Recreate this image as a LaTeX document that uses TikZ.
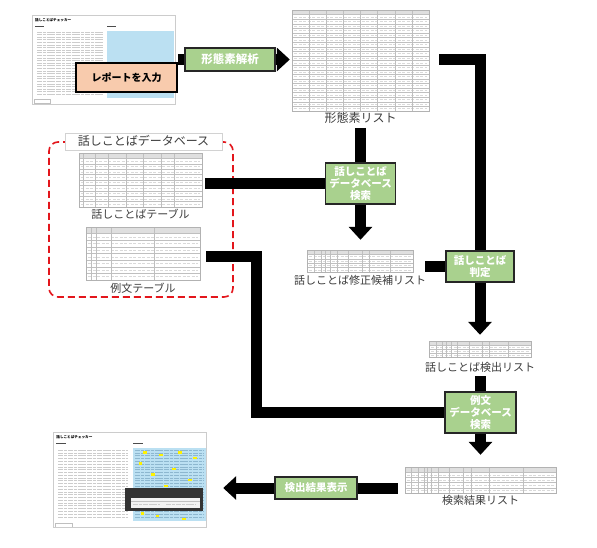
\documentclass[tikz,border=0pt]{standalone}
\usepackage{fontspec}
\setmainfont{Noto Sans CJK JP}
\usetikzlibrary{arrows.meta,fit,positioning}

\definecolor{procgreen}{HTML}{A9D18E}
\definecolor{inputpeach}{HTML}{F8CBAD}
\definecolor{panelblue}{HTML}{BBE0F2}
\definecolor{panelline}{HTML}{8DB7CF}
\definecolor{dbred}{HTML}{E3161C}
\definecolor{labelgray}{HTML}{3C3C3C}

\tikzset{
  process/.style={draw=black!85, line width=1.1pt, fill=procgreen, text=white,
    font=\bfseries\fontsize{10.5}{11.8}\selectfont, align=center, inner sep=0pt},
  inputbox/.style={draw=black, line width=2.2pt, fill=inputpeach,
    font=\bfseries\fontsize{10}{12}\selectfont, inner sep=0pt,
    minimum width=101pt, minimum height=29pt},
  flow/.style={draw=black, line width=11pt, line join=miter},
  flowarrow/.style={flow, -{Triangle[width=23pt,length=13pt]}},
  caption/.style={text=labelgray, font=\fontsize{11}{12}\selectfont, inner sep=0pt},
  textline/.style={draw=gray!40, line width=.7pt, dash pattern=on 5pt off .8pt on 3pt off .8pt},
  cellrule/.style={draw=gray!50, line width=.3pt},
  celltext/.style={draw=gray!30, line width=.6pt, dash pattern=on 3pt off 1.5pt},
  screentitle/.style={anchor=north west, inner sep=0pt, font=\bfseries\fontsize{3.6}{4}\selectfont},
  dbframe/.style={draw=dbred, line width=1.6pt, dash pattern=on 7pt off 4pt,
    rounded corners=9pt, inner sep=0pt},
  dbtitle/.style={draw=gray!35, line width=.4pt, fill=white, text=labelgray,
    font=\fontsize{12}{13}\selectfont, minimum width=157pt, minimum height=17pt, inner sep=0pt},
}

% table sheet: name, x1, y1, x2, y2, rows, column dividers (fractions)
\newcommand{\sheet}[7]{%
  \fill[white] (#2,#3) rectangle (#4,#5);
  \fill[gray!25] (#2,#3) rectangle (#4,{#3+(#5-#3)/#6});
  \foreach \rw in {2,...,#6}
    \draw[celltext] (#2+2,{#3+(#5-#3)*(\rw-0.5)/#6}) -- (#4-2,{#3+(#5-#3)*(\rw-0.5)/#6});
  \foreach \rw in {1,...,#6}
    \draw[cellrule] (#2,{#3+(#5-#3)*\rw/#6}) -- (#4,{#3+(#5-#3)*\rw/#6});
  \foreach \f in {#7}
    \draw[cellrule] ({#2+(#4-#2)*\f},#3) -- ({#2+(#4-#2)*\f},#5);
  \node[draw=gray!60, line width=.4pt, inner sep=0pt, fit={(#2,#3) (#4,#5)}] (#1) {};
}

\begin{document}
\begin{tikzpicture}[x=1pt, y=-1pt]
  \fill[white] (0,0) rectangle (597,547);
  \useasboundingbox (0,0) rectangle (597,547);

  % input screen
  \begin{scope}[shift={(32,15)}]
    \foreach \ln in {17,19.6,...,80}
      \draw[textline] (5,\ln) -- (71,\ln);
    \fill[panelblue] (75,16) rectangle (142,83);
    \fill[black!70] (3,11) rectangle (12,12.2);
    \fill[black!70] (75,11) rectangle (84,12.2);
    \draw[cellrule] (2,84) rectangle (18,88);
    \node[screentitle] at (3,3) {話しことばチェッカー};
  \end{scope}
  \node[draw=gray!40, line width=.4pt, inner sep=0pt, fit={(32,15) (175,104)}] (scrA) {};

  % result screen
  \begin{scope}[shift={(53,432)}, scale=1.07]
    \foreach \ln in {17,19.6,...,82}
      \draw[textline] (5,\ln) -- (70,\ln);
    \fill[panelblue] (75,15) rectangle (143,83);
    \foreach \ln in {17,19.6,...,82}
      \draw[textline, draw=panelline] (77,\ln) -- (141,\ln);
    \foreach \hx/\hy in {84/19, 99/21.6, 117/19, 131/24.2, 80/29.4, 111/34.6,
        92/39.8, 126/45, 104/50.2, 82/76, 96/78.6, 121/81.2}
      \fill[yellow] (\hx,\hy-1.1) rectangle ++(3.5,2.2);
    \fill[black!80] (67,52) rectangle (140,74);
    \fill[gray!10] (73,61.5) rectangle (137.5,71);
    \draw[cellrule] (73,64.5) -- (137.5,64.5);
    \draw[textline] (75,68) -- (100,68);
    \draw[textline] (106,68) -- (134,68);
    \fill[black!70] (3,10) rectangle (12,11.2);
    \fill[black!70] (75,10) rectangle (84,11.2);
    \draw[cellrule] (2,85) rectangle (18,89);
    \node[screentitle] at (3,3) {話しことばチェッカー};
  \end{scope}
  \node[draw=gray!40, line width=.4pt, inner sep=0pt, fit={(53,432) (206,527)}] (scrB) {};

  % tables
  \sheet{morphlist}{292}{10}{429}{111}{22}{0.125,0.25,0.375,0.5,0.625,0.75,0.875}
  \sheet{spoken}{79}{153}{202}{207}{10}{0.03,0.135,0.24,0.38,0.525,0.67,0.77}
  \sheet{extable}{86}{227}{200}{280}{8}{0.046,0.087,0.22,0.6}
  \sheet{candlist}{307}{250}{413}{272}{5}{0.07,0.13,0.17,0.22,0.28,0.39,0.52,0.59,0.78}
  \sheet{detectlist}{429}{341}{531}{357}{4}{0.07,0.13,0.17,0.22,0.28,0.39,0.52,0.59,0.78}
  \sheet{result}{405}{467}{556}{493}{5}{0.044,0.088,0.125,0.147,0.176,0.22,0.29,0.385,0.44,0.554,0.78}

  \node[caption, font=\fontsize{12}{13}\selectfont, below=1pt of morphlist] (morphlabel) {形態素リスト};
  \node[caption, below=2pt of spoken] (spokenlabel) {話しことばテーブル};
  \node[caption, below=2.5pt of extable] (exlabel) {例文テーブル};
  \node[caption, below=3pt of candlist] (candlabel) {話しことば修正候補リスト};
  \node[caption, below=4.5pt of detectlist] (detectlabel) {話しことば検出リスト};
  \node[caption, below=1.5pt of result] (resultlabel) {検索結果リスト};

  % database frame
  \node[dbframe, fit={(49,142) (233,297)}] (db) {};
  \node[dbtitle] (dbhead) at ([xshift=2.5pt]db.north) {話しことばデータベース};

  % steps
  \node[inputbox] (input) at (126.5,77.5) {レポートを入力};
  \node[process, font=\bfseries\fontsize{11.5}{12}\selectfont,
    minimum width=90pt, minimum height=23pt] (morph) at (230,59.5) {形態素解析};
  \node[process, minimum width=70pt, minimum height=41pt] (dbsearch) at (360.5,183.5) {話しことば\\データベース\\検索};
  \node[process, minimum width=68pt, minimum height=31pt] (judge) at (480,266.5) {話しことば\\判定};
  \node[process, minimum width=71pt, minimum height=41pt] (exsearch) at (480.5,412.5) {例文\\データベース\\検索};
  \node[process, minimum width=82pt, minimum height=22pt] (show) at (316,488) {検出結果表示};

  % flows
  \draw[flow] (input.east |- morph.west) -- (morph.west);
  \coordinate (listin) at ([xshift=-2pt]morphlist.west);
  \draw[flowarrow] (morph.east) -- (listin |- morph.east);
  \coordinate (listout) at ([xshift=10pt]morphlist.east);
  \draw[flow] (listout |- morph.east) -| (judge.north);

  \coordinate (morphdown) at ([yshift=-4pt]morphlabel.south);
  \draw[flow] (morphdown -| dbsearch.north) -- (dbsearch.north);
  \coordinate (candtop) at ([yshift=10pt]candlist.north);
  \draw[flowarrow] (dbsearch.south) -- (candtop -| dbsearch.south);
  \coordinate (spokenout) at ([xshift=3pt]spoken.east);
  \draw[flow] (spokenout |- dbsearch.west) -- (dbsearch.west);

  \coordinate (candout) at ([xshift=12pt]candlist.east);
  \draw[flow] (candout |- judge.west) -- (judge.west);
  \coordinate (detecttop) at ([yshift=6pt]detectlist.north);
  \draw[flowarrow] (judge.south) -- (detecttop -| judge.south);

  \coordinate (exout) at ([xshift=6pt, yshift=-3pt]extable.east);
  \draw[flow] (exout) -- ++(50,0) |- (exsearch.west);
  \coordinate (detectdown) at ([yshift=-4pt]detectlabel.south);
  \draw[flow] (detectdown -| exsearch.north) -- (exsearch.north);
  \coordinate (resulttop) at ([yshift=12pt]result.north);
  \draw[flowarrow] (exsearch.south) -- (resulttop -| exsearch.south);

  \coordinate (resultout) at ([xshift=-7pt]result.west);
  \draw[flow] (resultout |- show.east) -- (show.east);
  \coordinate (screenin) at ([xshift=17pt]scrB.east);
  \draw[flowarrow] (show.west) -- (screenin |- show.west);
\end{tikzpicture}
\end{document}
